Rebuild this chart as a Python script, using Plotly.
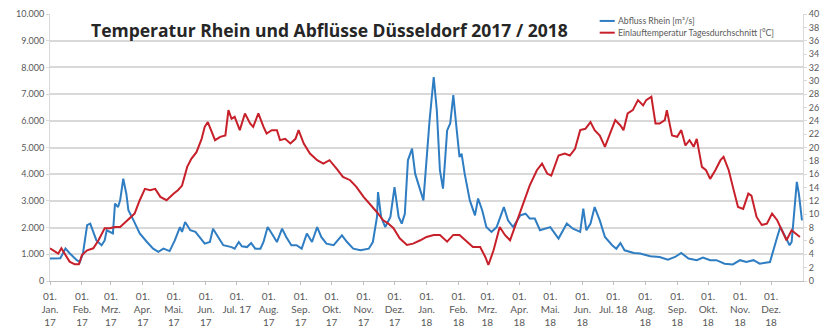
import pandas as pd
import plotly.graph_objects as go

# ---------------- data ----------------
START = "2017-01-01"

# Abfluss Rhein [m³/s]  (day offset from 01.01.2017, value)
flow_days = [0, 10, 15, 19, 26, 29, 32, 36, 39, 42, 45, 50, 53, 55, 58, 61, 63, 66, 68, 71,
             74, 76, 81, 87, 94, 100, 105, 110, 116, 121, 126, 128, 131, 136, 141, 145, 150, 155, 158, 163,
             168, 176, 179, 183, 186, 191, 195, 199, 204, 207, 211, 215, 220, 225, 229, 234, 239, 244, 249, 254,
             259, 263, 268, 275, 283, 288, 294, 301, 309, 313, 317, 318, 321, 325, 330, 334, 338, 341, 344, 347,
             351, 354, 357, 362, 365, 368, 372, 375, 378, 381, 383, 385, 388, 391, 394, 397, 399, 402, 407, 412,
             415, 419, 423, 428, 433, 440, 444, 449, 456, 461, 465, 470, 475, 485, 493, 501, 507, 514, 517, 520,
             524, 528, 533, 538, 545, 549, 553, 557, 566, 572, 582, 591, 599, 606, 612, 619, 627, 633, 640, 646,
             654, 662, 669, 675, 682, 688, 698, 701, 705, 708, 713, 717, 719, 724, 726, 729]
flow_values = [840, 850, 1220, 1040, 780, 710, 1040, 2090, 2150, 1790, 1520, 1340, 1520, 1900, 1840, 1780, 2900, 2770, 3020, 3830,
               3270, 2650, 2270, 1780, 1460, 1210, 1090, 1210, 1120, 1520, 2020, 1840, 2210, 1900, 1840, 1650, 1400, 1460, 1960, 1650,
               1340, 1270, 1210, 1460, 1300, 1270, 1420, 1210, 1210, 1460, 2020, 1780, 1460, 1960, 1650, 1340, 1340, 1210, 1780, 1460,
               2020, 1650, 1400, 1340, 1710, 1460, 1210, 1150, 1210, 1460, 2400, 3330, 2400, 2020, 2400, 3520, 2400, 2150, 2520, 4520,
               4960, 4020, 3650, 3020, 4520, 6020, 7640, 6390, 4150, 3460, 4520, 5640, 5900, 6960, 5770, 4640, 4770, 4020, 3020, 2460,
               3090, 2650, 2020, 1840, 2020, 2770, 2270, 2020, 2460, 2520, 2340, 2340, 1900, 2020, 1590, 2150, 1960, 1840, 2710, 1900,
               2150, 2770, 2270, 1650, 1340, 1210, 1420, 1150, 1050, 1030, 930, 900, 800, 900, 1050, 840, 780, 880, 780, 780,
               650, 620, 780, 710, 780, 650, 710, 1150, 1650, 2020, 1650, 1340, 1460, 3710, 3270, 2270]

# Einlauftemperatur Tagesdurchschnitt [°C]
temp_days = [0, 5, 8, 11, 15, 19, 24, 28, 31, 36, 42, 47, 53, 58, 63, 68, 73, 78, 82, 87,
             92, 97, 102, 107, 113, 120, 124, 128, 133, 137, 142, 147, 150, 153, 157, 160, 165, 170, 173, 176,
             179, 184, 189, 194, 197, 202, 207, 210, 215, 220, 223, 228, 233, 238, 241, 246, 252, 259, 265, 271,
             278, 284, 291, 297, 304, 310, 317, 323, 328, 333, 339, 346, 352, 359, 365, 372, 378, 385, 391, 397,
             404, 410, 417, 422, 425, 430, 436, 441, 446, 452, 459, 465, 472, 477, 482, 486, 493, 499, 504, 509,
             514, 519, 524, 528, 533, 538, 543, 548, 553, 556, 560, 565, 570, 575, 578, 583, 587, 591, 596, 598,
             603, 608, 612, 616, 620, 624, 627, 632, 636, 640, 645, 650, 653, 658, 662, 667, 672, 677, 680, 685,
             690, 695, 700, 705, 708, 714, 719, 724, 727]
temp_values = [4.9, 4.4, 4.1, 4.9, 3.9, 2.9, 2.5, 2.5, 3.9, 4.6, 4.9, 6.1, 7.9, 7.9, 8.1, 8.1, 8.8, 9.6, 10.1, 12.1,
               13.8, 13.6, 13.8, 12.6, 12.1, 13.1, 13.6, 14.3, 17.1, 18.3, 19.3, 21.3, 23.1, 23.8, 22.3, 21.1, 21.6, 21.8, 25.6, 24.3,
               24.6, 22.6, 25.1, 23.6, 23.1, 25.1, 23.1, 22.1, 22.6, 22.6, 21.1, 21.3, 20.6, 21.3, 22.6, 20.6, 19.1, 18.1, 17.6, 18.1,
               16.8, 15.6, 15.1, 14.1, 12.6, 11.6, 10.3, 9.1, 8.6, 7.9, 6.4, 5.4, 5.6, 6.1, 6.6, 6.9, 6.9, 5.9, 6.9, 6.9,
               5.9, 5.1, 5.1, 3.6, 2.4, 4.6, 8.1, 6.9, 6.1, 8.6, 11.6, 14.3, 16.6, 17.6, 16.1, 15.8, 18.8, 19.1, 18.8, 19.8,
               22.6, 22.8, 23.8, 22.6, 21.8, 20.1, 22.1, 24.1, 23.3, 22.6, 25.1, 25.6, 27.1, 26.3, 27.1, 27.6, 23.6, 23.6, 24.1, 25.6,
               21.8, 21.6, 22.6, 20.3, 21.1, 20.1, 21.3, 17.1, 16.6, 15.3, 16.6, 18.1, 18.6, 16.6, 14.1, 11.1, 10.8, 13.1, 12.8, 9.6,
               8.4, 8.6, 10.1, 9.1, 8.1, 6.1, 7.6, 6.9, 6.6]

series_names = ["Abfluss Rhein [m³/s]", "Einlauftemperatur Tagesdurchschnitt [°C]"]

tick_dates = ["2017-01-01", "2017-02-01", "2017-03-01", "2017-04-01", "2017-05-01", "2017-06-01",
              "2017-07-01", "2017-08-01", "2017-09-01", "2017-10-01", "2017-11-01", "2017-12-01",
              "2018-01-01", "2018-02-01", "2018-03-01", "2018-04-01", "2018-05-01", "2018-06-01",
              "2018-07-01", "2018-08-01", "2018-09-01", "2018-10-01", "2018-11-01", "2018-12-01"]
tick_labels = ["01.<br>Jan.<br>17", "01.<br>Feb.<br>17", "01.<br>Mrz.<br>17", "01.<br>Apr.<br>17",
               "01.<br>Mai.<br>17", "01.<br>Jun.<br>17", "01.<br>Jul. 17", "01.<br>Aug.<br>17",
               "01.<br>Sep.<br>17", "01.<br>Okt.<br>17", "01.<br>Nov.<br>17", "01.<br>Dez.<br>17",
               "01.<br>Jan.<br>18", "01.<br>Feb.<br>18", "01.<br>Mrz.<br>18", "01.<br>Apr.<br>18",
               "01.<br>Mai.<br>18", "01.<br>Jun.<br>18", "01.<br>Jul. 18", "01.<br>Aug.<br>18",
               "01.<br>Sep.<br>18", "01.<br>Okt.<br>18", "01.<br>Nov.<br>18", "01.<br>Dez.<br>18"]

title_text = "Temperatur Rhein und Abflüsse Düsseldorf 2017 / 2018"

# ---------------- build ----------------
start = pd.Timestamp(START)
flow_dates = start + pd.to_timedelta(flow_days, unit="D")
temp_dates = start + pd.to_timedelta(temp_days, unit="D")

BLUE = "#2f7dc2"
RED = "#c8202a"
GRID = "#d9d9d9"
AXIS = "#bfbfbf"
TXT = "#595959"
FONT = "Lato"

fig = go.Figure()
fig.add_trace(go.Scatter(x=flow_dates, y=flow_values, mode="lines", name=series_names[0],
                         line=dict(color=BLUE, width=2), yaxis="y", showlegend=False))
fig.add_trace(go.Scatter(x=temp_dates, y=temp_values, mode="lines", name=series_names[1],
                         line=dict(color=RED, width=2), yaxis="y2", showlegend=False))

# manual compact legend
legend_rows = [(0.974, BLUE, series_names[0]), (0.930, RED, series_names[1])]
for ypos, col, label in legend_rows:
    fig.add_shape(type="line", xref="paper", yref="paper", x0=0.730, x1=0.750, y0=ypos, y1=ypos,
                  line=dict(color=col, width=2))
    fig.add_annotation(xref="paper", yref="paper", x=0.752, y=ypos, text=label, showarrow=False,
                       xanchor="left", yanchor="middle", font=dict(family=FONT, size=8.7, color=TXT))

fig.add_annotation(xref="paper", yref="paper", x=0.371, y=0.94, text="<b>" + title_text + "</b>",
                   showarrow=False, xanchor="center", yanchor="middle",
                   font=dict(family="Open Sans", size=17.5, color="#262626"))

fig.update_layout(
    width=824, height=331, autosize=False,
    margin=dict(l=50, r=21, t=14, b=50, autoexpand=False),
    paper_bgcolor="white", plot_bgcolor="white",
    separators=",.",
    font=dict(family=FONT, size=9, color=TXT),
    xaxis=dict(type="date", range=["2017-01-01", "2019-01-01"], tickmode="array",
               tickvals=tick_dates, ticktext=tick_labels, tickangle=0, automargin=False,
               ticks="outside", ticklen=3, tickcolor=AXIS, showline=True, linecolor=AXIS,
               showgrid=False, zeroline=False, tickfont=dict(family=FONT, size=10, color=TXT),
               ticklabelstandoff=3),
    yaxis=dict(range=[0, 10000], dtick=1000, tickformat=",.0f", showgrid=True, gridcolor=GRID,
               gridwidth=1.5, zeroline=False, showline=True, linecolor=GRID, ticks="outside",
               ticklen=3, tickcolor=GRID, automargin=False, tickfont=dict(family=FONT, size=9, color=TXT)),
    yaxis2=dict(range=[0, 40], dtick=2, overlaying="y", side="right", showgrid=False,
                zeroline=False, showline=True, linecolor=GRID, ticks="outside", ticklen=3,
                automargin=False, tickcolor=GRID, tickfont=dict(family=FONT, size=9, color=TXT)),
)

fig.write_html("out.html")
